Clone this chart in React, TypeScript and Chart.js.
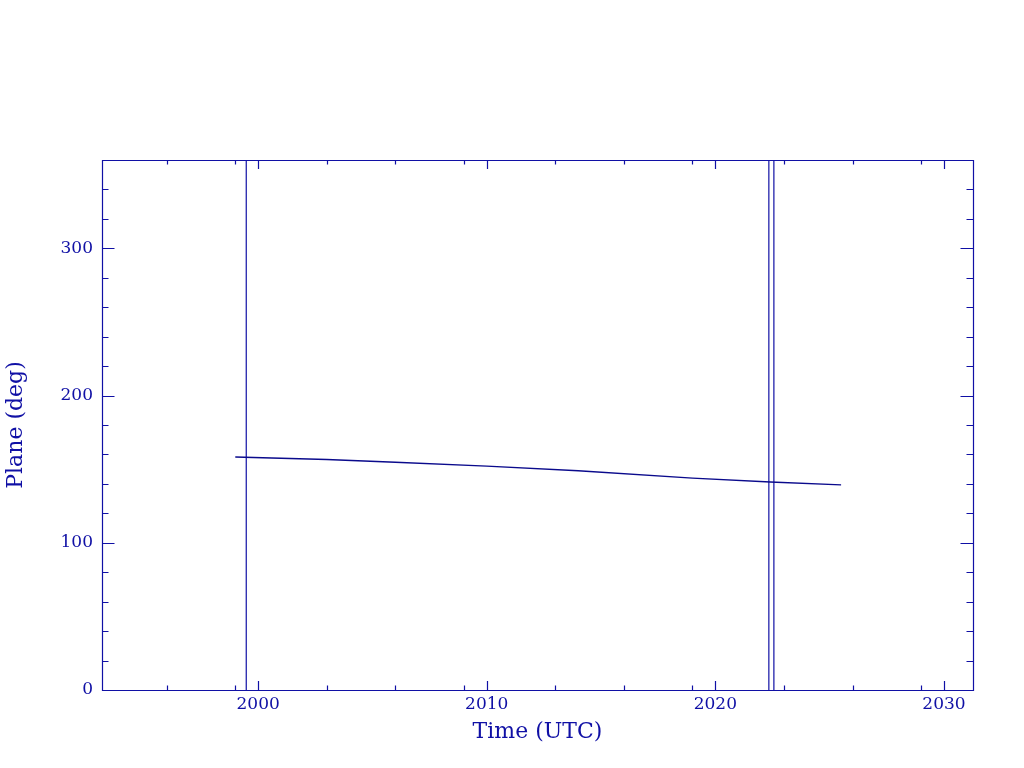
import React, { useEffect, useRef } from "react";
import { Chart, registerables } from "chart.js";

Chart.register(...registerables);

// ---- Data ----
const planeYears = [1999.0, 2003.0, 2006.0, 2010.0, 2014.0, 2019.0, 2022.4, 2025.5];
const planeDeg = [158.3, 156.6, 154.7, 152.1, 148.9, 143.9, 141.3, 139.3];
const eventYears = [1999.48, 2022.34, 2022.56];

const xMajorTicks = [2000, 2010, 2020, 2030];
const xMinorTicks = [1996, 1999, 2003, 2006, 2009, 2013, 2016, 2019, 2023, 2026, 2029];
const yMajorTicks = [0, 100, 200, 300];
const yMinorTicks = [20, 40, 60, 80, 120, 140, 160, 180, 220, 240, 260, 280, 320, 340];

const X_MIN = 1993.17;
const X_MAX = 2031.27;
const Y_MIN = 0;
const Y_MAX = 360;

const INK = "rgb(16,16,165)";
const FONT = "'DejaVu Serif', serif";

const framePlugin = {
  id: "pgframe",
  afterDatasetsDraw(chart: any) {
    const { ctx, chartArea, scales } = chart;
    const { left, right, top, bottom } = chartArea;
    const xs = scales.x;
    const ys = scales.y;
    ctx.save();
    ctx.strokeStyle = INK;
    ctx.lineWidth = 1.2;
    ctx.beginPath();
    ctx.rect(left + 0.5, top + 0.5, right - left, bottom - top);
    ctx.stroke();
    const xMaj = 9;
    const xMin = 4.5;
    const yMaj = 12.5;
    const yMin = 6.5;
    ctx.beginPath();
    const xt = (v: number, len: number) => {
      const p = Math.round(xs.getPixelForValue(v)) + 0.5;
      ctx.moveTo(p, bottom);
      ctx.lineTo(p, bottom - len);
      ctx.moveTo(p, top);
      ctx.lineTo(p, top + len);
    };
    const yt = (v: number, len: number) => {
      const p = Math.round(ys.getPixelForValue(v)) + 0.5;
      ctx.moveTo(left, p);
      ctx.lineTo(left + len, p);
      ctx.moveTo(right, p);
      ctx.lineTo(right - len, p);
    };
    xMajorTicks.forEach((v) => xt(v, xMaj));
    xMinorTicks.forEach((v) => xt(v, xMin));
    yMajorTicks.forEach((v) => yt(v, yMaj));
    yMinorTicks.forEach((v) => yt(v, yMin));
    ctx.stroke();
    ctx.restore();
  },
};

export default function App() {
  const canvasRef = useRef<HTMLCanvasElement | null>(null);

  useEffect(() => {
    const canvas = canvasRef.current;
    if (!canvas) return;

    const planeData = planeYears.map((x, i) => ({ x, y: planeDeg[i] }));
    const eventSets = eventYears.map((x) => ({
      data: [
        { x, y: Y_MIN },
        { x, y: Y_MAX },
      ],
      showLine: true,
      borderColor: INK,
      borderWidth: 1.2,
      pointRadius: 0,
    }));

    const chart = new Chart(canvas, {
      type: "scatter",
      data: {
        datasets: [
          {
            data: planeData,
            showLine: true,
            borderColor: "rgb(10,10,140)",
            borderWidth: 1.4,
            pointRadius: 0,
            tension: 0,
          },
          ...eventSets,
        ],
      },
      plugins: [framePlugin],
      options: {
        responsive: false,
        animation: false,
        devicePixelRatio: 1,
        layout: { padding: { top: 160, right: 51, left: 0, bottom: 0 } },
        plugins: {
          legend: { display: false },
          tooltip: { enabled: false },
        },
        scales: {
          x: {
            type: "linear",
            min: X_MIN,
            max: X_MAX,
            grid: { display: false, drawTicks: false },
            border: { display: false },
            afterBuildTicks: (s: any) => {
              s.ticks = xMajorTicks.map((v) => ({ value: v }));
            },
            afterFit: (s: any) => {
              s.height = 78;
            },
            ticks: {
              color: INK,
              font: { family: FONT, size: 17 },
              padding: 4,
              maxRotation: 0,
              autoSkip: false,
              callback: (v: any) => String(v),
            },
            title: {
              display: true,
              text: "Time (UTC)",
              color: INK,
              font: { family: FONT, size: 22 },
              padding: { top: 0, bottom: 23 },
            },
          },
          y: {
            type: "linear",
            min: Y_MIN,
            max: Y_MAX,
            grid: { display: false, drawTicks: false },
            border: { display: false },
            afterBuildTicks: (s: any) => {
              s.ticks = yMajorTicks.map((v) => ({ value: v }));
            },
            afterFit: (s: any) => {
              s.width = 102;
            },
            ticks: {
              color: INK,
              font: { family: FONT, size: 17 },
              padding: 9,
              autoSkip: false,
              callback: (v: any) => String(v),
            },
            title: {
              display: true,
              text: "Plane (deg)",
              color: INK,
              font: { family: FONT, size: 22 },
              padding: { top: 3, bottom: 0 },
            },
          },
        },
      },
    } as any);

    return () => chart.destroy();
  }, []);

  return (
    <div
      style={{
        position: "absolute",
        left: 0,
        top: 0,
        width: 1024,
        height: 768,
        background: "#ffffff",
      }}
    >
      <canvas
        ref={canvasRef}
        width={1024}
        height={768}
        style={{ display: "block", width: 1024, height: 768 }}
      />
    </div>
  );
}
